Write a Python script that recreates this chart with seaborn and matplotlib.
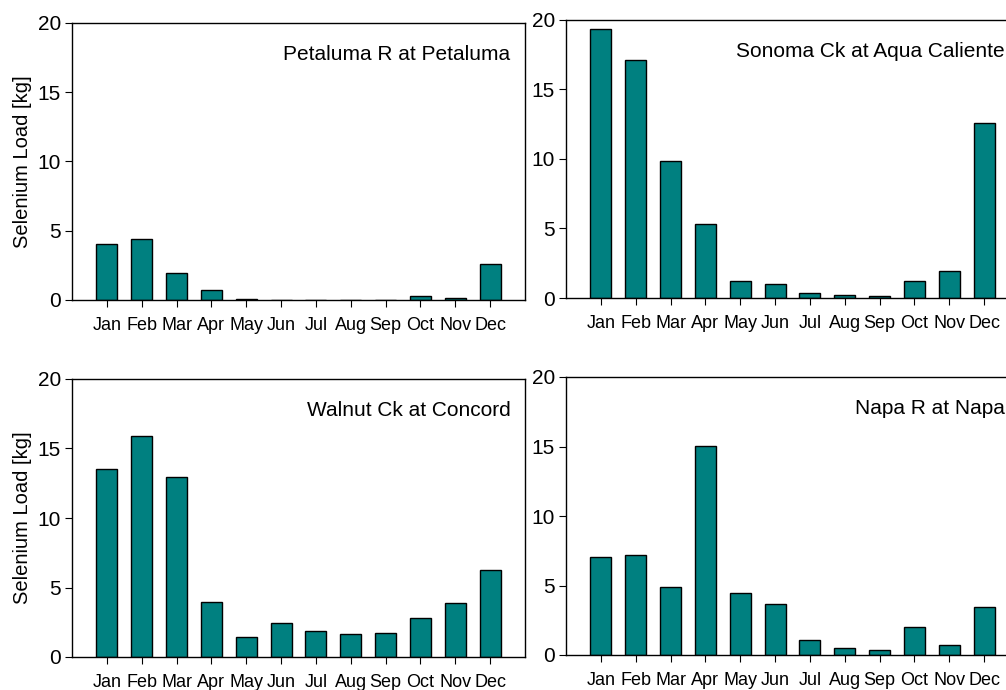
import seaborn as sns
import pandas as pd
import matplotlib.pyplot as plt

months = ["Jan", "Feb", "Mar", "Apr", "May", "Jun",
          "Jul", "Aug", "Sep", "Oct", "Nov", "Dec"]

petaluma = [4.04, 4.40, 1.95, 0.75, 0.07, 0.0, 0.0, 0.0, 0.0, 0.31, 0.15, 2.57]
sonoma = [19.38, 17.12, 9.83, 5.35, 1.25, 1.03, 0.38, 0.19, 0.17, 1.25, 1.92, 12.61]
walnut = [13.49, 15.87, 12.98, 3.94, 1.47, 2.43, 1.85, 1.63, 1.73, 2.84, 3.89, 6.23]
napa = [7.08, 7.23, 4.92, 15.03, 4.49, 3.67, 1.10, 0.50, 0.38, 2.04, 0.70, 3.43]

stations = ["Petaluma R at Petaluma", "Sonoma Ck at Aqua Caliente",
            "Walnut Ck at Concord", "Napa R at Napa"]

sns.set_style("ticks")
plt.rcParams['font.family'] = ['Liberation Sans', 'DejaVu Sans']
plt.rcParams['text.color'] = 'black'
plt.rcParams['axes.labelcolor'] = 'black'
plt.rcParams['xtick.color'] = 'black'
plt.rcParams['ytick.color'] = 'black'

fig = plt.figure(figsize=(10.06, 6.9), dpi=100)
W, H = 1006, 690
# axes boxes in pixels: left, top, right, bottom
boxes = [(72, 23, 525, 300), (566, 20, 1019, 298),
         (72, 379, 525, 657), (566, 377, 1019, 655)]

for i, (vals, name) in enumerate(zip([petaluma, sonoma, walnut, napa], stations)):
    l, t, r, b = boxes[i]
    ax = fig.add_axes([l / W, 1 - b / H, (r - l) / W, (b - t) / H])
    df = pd.DataFrame({"month": months, "load": vals})
    sns.barplot(data=df, x="month", y="load", ax=ax, color="#008080",
                saturation=1, edgecolor="black", linewidth=1, width=0.6)
    ax.set_xlim(-1, 12)
    ax.set_ylim(0, 20)
    ax.set_yticks([0, 5, 10, 15, 20])
    ax.set_xlabel("")
    if i % 2 == 0:
        ax.set_ylabel("Selenium Load [kg]", fontsize=14.5, labelpad=4)
    else:
        ax.set_ylabel("")
    ax.tick_params(axis="y", labelsize=15, length=5, width=0.8, pad=3)
    ax.tick_params(axis="x", labelsize=13, length=5, width=0.8, pad=7)
    for sp in ax.spines.values():
        sp.set_visible(True)
        sp.set_color("black")
        sp.set_linewidth(1)
    ax.text(0.968, 0.885, name, transform=ax.transAxes, ha="right",
            va="center", fontsize=15)

fig.savefig("out.png", dpi=100)
